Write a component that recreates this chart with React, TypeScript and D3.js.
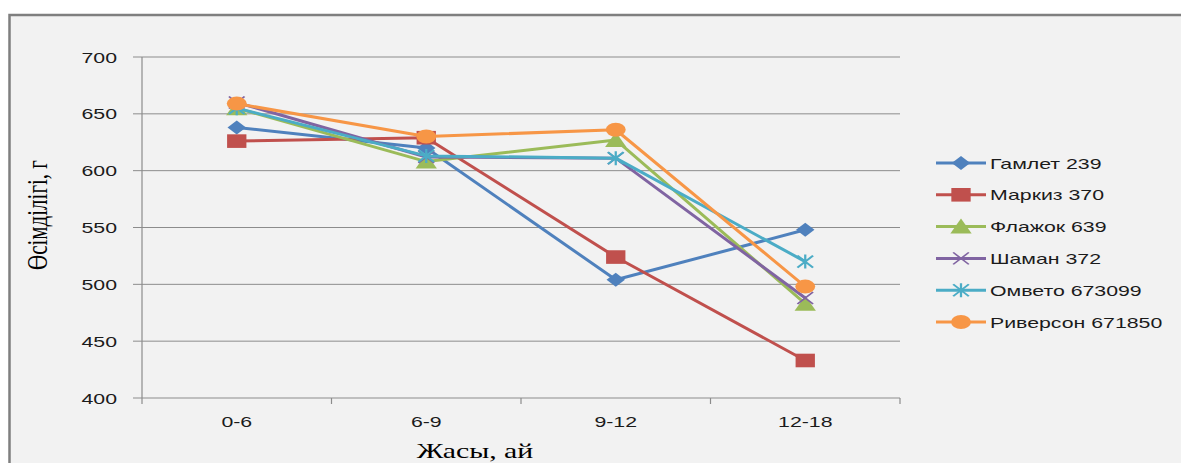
import React from "react";
import * as d3 from "d3";

const categories = ["0-6", "6-9", "9-12", "12-18"];
const seriesNames = ["Гамлет 239", "Маркиз 370", "Флажок 639", "Шаман 372", "Омвето 673099", "Риверсон 671850"];
const gamlet = [638, 620, 504, 548];
const markiz = [626, 629, 524, 433];
const flazhok = [655, 608, 627, 483];
const shaman = [660, 612, 611, 488];
const ombeto = [655, 613, 611, 520];
const riverson = [659, 630, 636, 498];
const seriesValues = [gamlet, markiz, flazhok, shaman, ombeto, riverson];
const seriesColors = ["#4F81BD", "#C0504D", "#9BBB59", "#8064A2", "#4BACC6", "#F79646"];
const seriesMarkers = ["diamond", "square", "triangle", "x", "star", "circle"];
const yDomain = [400, 700];
const yTitle = "Өсімділігі, г";
const xTitle = "Жасы, ай";

const W = 1181;
const H = 463;
const SX = 1.42; // horizontal stretch seen in the reference
const PL = 142, PR = 900, PT = 57, PB = 398;
const FONT = "'Liberation Sans', Arial, sans-serif";
const SERIF = "'Liberation Serif', 'Times New Roman', serif";

function SText({ x, y, children, anchor = "start", size = 15, family = FONT, rotate = 0, fill = "#1b1b1b" }: any) {
  return (
    <text
      transform={`translate(${x},${y}) scale(${SX},1)${rotate ? ` rotate(${rotate})` : ""}`}
      textAnchor={anchor}
      fontFamily={family}
      fontSize={size}
      fill={fill}
      dominantBaseline="alphabetic"
    >
      {children}
    </text>
  );
}

function Marker({ type, x, y, color }: { type: string; x: number; y: number; color: string }) {
  const t = `translate(${x},${y}) scale(${SX},1)`;
  if (type === "diamond") {
    return <path transform={t} d="M0,-7 L6.5,0 L0,7 L-6.5,0 Z" fill={color} />;
  }
  if (type === "square") {
    return <rect transform={t} x={-6.8} y={-6.8} width={13.6} height={13.6} fill={color} />;
  }
  if (type === "triangle") {
    return <path transform={t} d="M0,-8 L7.5,7 L-7.5,7 Z" fill={color} />;
  }
  if (type === "circle") {
    return <circle transform={t} r={7} fill={color} />;
  }
  if (type === "x") {
    return <path transform={t} d="M-5.5,-6 L5.5,6 M-5.5,6 L5.5,-6" stroke={color} strokeWidth={1.4} fill="none" />;
  }
  // star (asterisk)
  return (
    <path transform={t} d="M-5.5,-6 L5.5,6 M-5.5,6 L5.5,-6 M0,-7 L0,7" stroke={color} strokeWidth={1.6} fill="none" />
  );
}

export default function App() {
  const x = d3.scaleBand<string>().domain(categories).range([PL, PR]).paddingInner(0).paddingOuter(0);
  const cx = (c: string) => (x(c) as number) + x.bandwidth() / 2;
  const y = d3.scaleLinear().domain(yDomain).range([PB, PT]);
  const yTicks = y.ticks(6);
  const line = d3
    .line<number>()
    .x((_, i) => cx(categories[i]))
    .y((d) => y(d));

  const boundaries = [...categories.map((c) => x(c) as number), PR];

  const legendX = 936;
  const legendY0 = 163;
  const legendStep = 31.8;

  return (
    <svg
      width={W}
      height={H}
      style={{ position: "absolute", left: 0, top: 0, display: "block", background: "#fff" }}
    >
      <rect x={9.5} y={15} width={W + 20} height={H + 20} fill="#f2f2f2" stroke="#7f7f7f" strokeWidth={2.5} />

      {/* gridlines */}
      {yTicks.map((t) => (
        <line key={`g${t}`} x1={PL - 9} x2={PR} y1={y(t)} y2={y(t)} stroke="#8c8c8c" strokeWidth={1} />
      ))}
      {/* y axis line */}
      <line x1={PL} x2={PL} y1={PT} y2={PB} stroke="#8c8c8c" strokeWidth={1.2} />
      {/* x axis ticks */}
      {boundaries.map((b, i) => (
        <line key={`xt${i}`} x1={b} x2={b} y1={PB} y2={PB + 6} stroke="#8c8c8c" strokeWidth={1.2} />
      ))}

      {/* y tick labels */}
      {yTicks.map((t) => (
        <SText key={`yl${t}`} x={117} y={y(t) + 5.5} anchor="end">
          {t}
        </SText>
      ))}
      {/* x tick labels */}
      {categories.map((c) => (
        <SText key={`xl${c}`} x={cx(c)} y={427} anchor="middle">
          {c}
        </SText>
      ))}

      {/* axis titles */}
      <SText x={475} y={458} anchor="middle" size={21} family={SERIF} fill="#000">
        {xTitle}
      </SText>
      <SText x={47} y={215} anchor="middle" size={21} family={SERIF} rotate={-90} fill="#000">
        {yTitle}
      </SText>

      {/* series */}
      {seriesValues.map((vals, si) => (
        <g key={`s${si}`}>
          <path d={line(vals) || ""} fill="none" stroke={seriesColors[si]} strokeWidth={3} strokeLinejoin="round" />
          {vals.map((v, i) => (
            <Marker key={i} type={seriesMarkers[si]} x={cx(categories[i])} y={y(v)} color={seriesColors[si]} />
          ))}
        </g>
      ))}

      {/* legend */}
      {seriesNames.map((name, si) => {
        const ly = legendY0 + si * legendStep;
        return (
          <g key={`lg${si}`}>
            <line x1={legendX} x2={legendX + 50} y1={ly} y2={ly} stroke={seriesColors[si]} strokeWidth={3} />
            <Marker type={seriesMarkers[si]} x={legendX + 25} y={ly} color={seriesColors[si]} />
            <SText x={legendX + 54} y={ly + 5.5}>
              {name}
            </SText>
          </g>
        );
      })}
    </svg>
  );
}
